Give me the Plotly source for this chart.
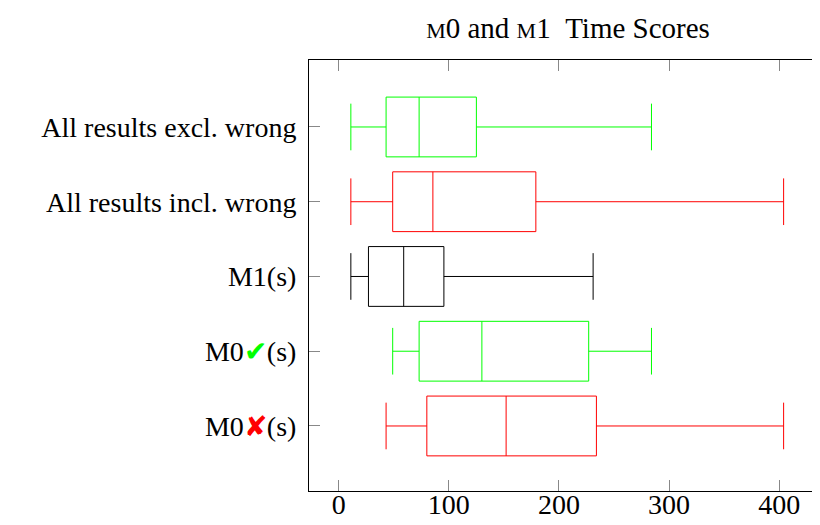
import plotly.graph_objects as go

GREEN = "#00ff00"
RED = "#ff0000"
BLACK = "#000000"

# categories bottom-to-top
categories = [
    "M0<span style='color:#ff0000'>✘</span>(s)",
    "M0<span style='color:#00ff00'>✔</span>(s)",
    "M1(s)",
    "All results incl. wrong",
    "All results excl. wrong",
]
lower_whisker = [43, 49, 11, 11, 11]
q1_vals = [80, 73, 27, 49, 43]
median_vals = [152, 130, 59, 85.5, 73]
q3_vals = [234, 227, 95.5, 179, 125]
upper_whisker = [404, 284, 231, 404, 284]
colors = [RED, GREEN, BLACK, RED, GREEN]

x_ticks = [0, 100, 200, 300, 400]

FONT = "Liberation Serif"
FS = 28
OFF = 8  # page body margin
W, H = 827 - OFF, 525 - OFF

fig = go.Figure()
for i, cat in enumerate(categories):
    fig.add_trace(go.Box(
        y=[cat],
        q1=[q1_vals[i]],
        median=[median_vals[i]],
        q3=[q3_vals[i]],
        lowerfence=[lower_whisker[i]],
        upperfence=[upper_whisker[i]],
        orientation="h",
        line=dict(color=colors[i], width=1),
        fillcolor="rgba(0,0,0,0)",
        whiskerwidth=0.78,
        width=0.8,
        boxpoints=False,
        showlegend=False,
        hoverinfo="skip",
    ))

sc = "<span style='font-size:22px'>M</span>"
fig.update_layout(
    width=W,
    height=H,
    margin=dict(l=309 - OFF, r=0, t=60 - OFF, b=34, autoexpand=False),
    paper_bgcolor="white",
    plot_bgcolor="white",
    font=dict(family=FONT, size=FS, color="black"),
    title=dict(
        text=f"{sc}0 and {sc}1\u00a0\u00a0Time Scores",
        x=(568 - OFF) / W, xref="container", xanchor="center",
        y=1 - (28 - OFF) / H, yref="container", yanchor="middle",
        font=dict(family=FONT, size=29, color="black"),
    ),
    boxmode="overlay",
)
fig.update_xaxes(
    range=[-27, 443.4],
    tickvals=x_ticks,
    ticktext=[str(v) for v in x_ticks],
    showline=True, linecolor="black", linewidth=1,
    mirror="allticks", ticks="inside", ticklen=11, tickcolor="#888888",
    showgrid=False, zeroline=False,
    ticklabelstandoff=-12,
)
fig.update_yaxes(
    type="category",
    categoryorder="array",
    categoryarray=categories,
    range=[-0.87, 4.896],
    showline=True, linecolor="black", linewidth=1,
    mirror="allticks", ticks="inside", ticklen=11, tickcolor="#888888",
    showgrid=False, zeroline=False,
    ticklabelstandoff=6,
)

fig.write_html("out.html")
